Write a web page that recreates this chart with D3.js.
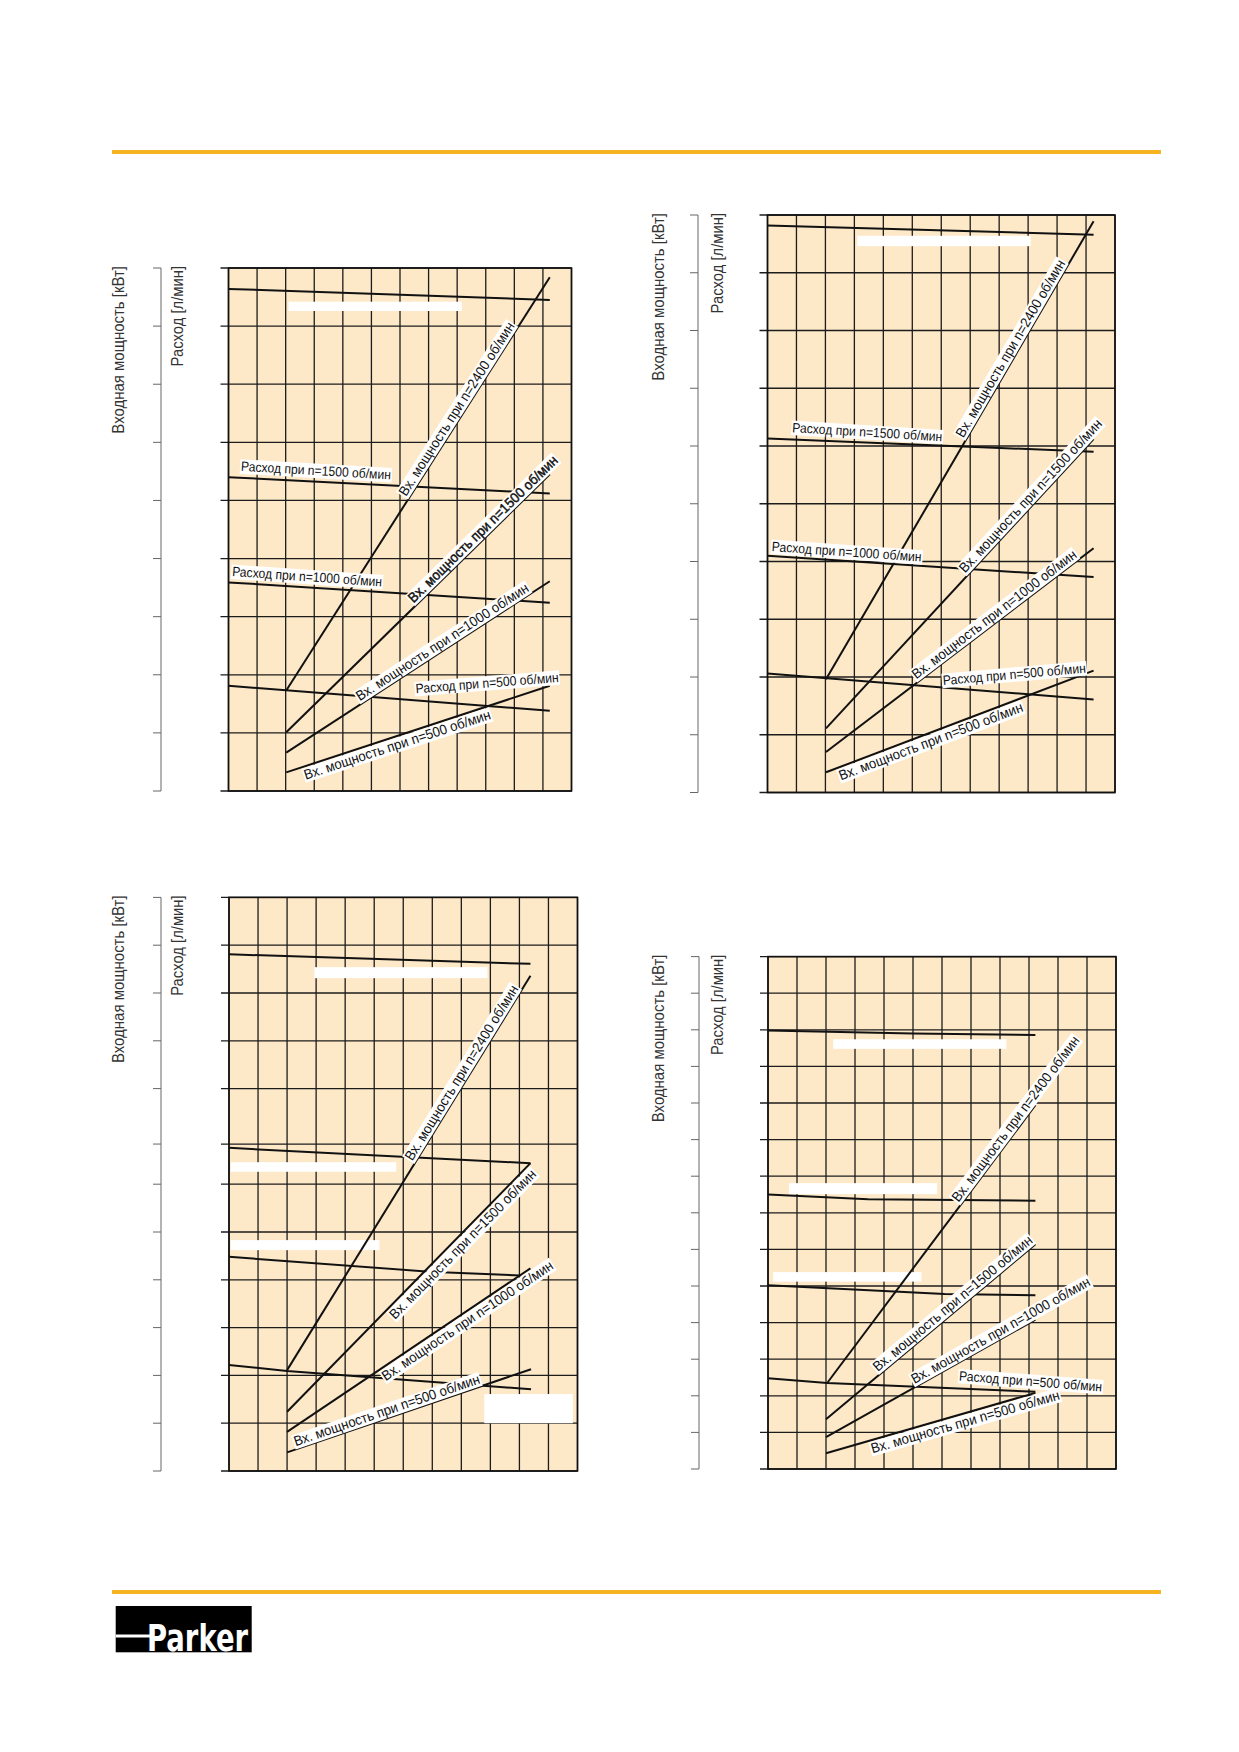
<!DOCTYPE html>
<meta charset="utf-8">
<title>Parker – Входная мощность и расход</title>
<style>
  body { margin: 0; background: #fff; }
  text.lbl { font-family: "Liberation Sans", Arial, sans-serif; font-size: 13.5px; fill: #111; }
  text.lbl.pw { font-size: 14px; }
  text.ttl { font-family: "Liberation Sans", Arial, sans-serif; font-size: 17px; fill: #333; }
  .grid line { stroke: #1c1c1c; stroke-width: 1.3px; }
  .curve { fill: none; stroke: #111; stroke-width: 2px; }
  .axis line { stroke: #666; stroke-width: 1px; }
</style>
<script src="https://d3js.org/d3.v7.min.js"></script>
<div id="page"></div>
<script>

// column lines (grid units), same for all four charts
var cols = [0, 1, 2, 3, 4, 5, 6, 7, 8, 9, 10, 11, 12];

// row lines for each chart (bottom-left one has a misplaced line in the original)
var tlRows = [0, 1, 2, 3, 4, 5, 6, 7, 8, 9];
var trRows = [0, 1, 2, 3, 4, 5, 6, 7, 8, 9, 10];
var blRows = [0, 1, 2, 3, 4, 5, 6, 6.84, 8, 9, 10, 11, 12];
var brRows = [0, 1, 2, 3, 4, 5, 6, 7, 8, 9, 10, 11, 12, 13, 14];

// speeds, in the order used by the series arrays below
var speeds = ["2400", "1500", "1000", "500"];

// flow (Расход) and input power (Вх. мощность) curves, [x, y] in grid units
var tlFlow = [
  [[0, 8.64], [11.24, 8.45]],
  [[0, 5.40], [11.24, 5.12]],
  [[0, 3.59], [11.24, 3.24]],
  [[0, 1.81], [11.24, 1.38]]
];
var tlPower = [
  [[2.02, 1.73], [11.24, 8.84]],
  [[2.02, 1.01], [11.24, 5.45]],
  [[2.02, 0.66], [11.24, 3.61]],
  [[2.02, 0.32], [11.24, 1.81]]
];

var trFlow = [
  [[0, 9.82], [11.26, 9.66]],
  [[0, 6.13], [11.26, 5.90]],
  [[0, 4.10], [11.26, 3.73]],
  [[0, 2.06], [11.26, 1.61]]
];
var trPower = [
  [[2.02, 1.96], [11.26, 9.89]],
  [[2.02, 1.11], [11.26, 6.12]],
  [[2.02, 0.70], [11.26, 4.23]],
  [[2.02, 0.35], [11.26, 2.11]]
];

var blFlow = [
  [[0, 10.81], [10.38, 10.61]],
  [[0, 6.76], [10.38, 6.44]],
  [[0, 4.48], [6.9, 4.17], [10.05, 4.09]],
  [[0, 2.22], [2.0, 2.09], [10.4, 1.71]]
];
var blPower = [
  [[2.0, 2.11], [10.38, 10.36]],
  [[2.0, 1.24], [10.38, 6.44]],
  [[2.0, 0.82], [10.38, 4.24]],
  [[2.0, 0.39], [10.4, 2.13]]
];

var brFlow = [
  [[0, 11.98], [5, 11.90], [9.22, 11.86]],
  [[0, 7.50], [3.45, 7.37], [9.22, 7.33]],
  [[0, 5.02], [6.09, 4.78], [9.22, 4.75]],
  [[0, 2.48], [2.04, 2.35], [9.22, 2.11]]
];
var brPower = [
  [[2.04, 2.35], [9.22, 9.94]],
  [[2.0, 1.36], [9.22, 6.14]],
  [[2.0, 0.87], [9.22, 4.08]],
  [[2.0, 0.43], [9.22, 2.08]]
];

// blanked-out (white) label patches: [x0, x1, yTop, yBottom] in grid units
var tlBlank = [[2.1, 8.16, 8.42, 8.26]];
var trBlank = [[3.1, 9.09, 9.64, 9.46]];
var blBlank = [[2.94, 8.9, 10.54, 10.31], [0.06, 5.76, 6.46, 6.26], [0.06, 5.18, 4.83, 4.62], [8.79, 11.84, 1.61, 1.0]];
var brBlank = [[2.25, 8.22, 11.74, 11.48], [0.72, 5.83, 7.81, 7.51], [0.18, 5.29, 5.38, 5.12]];

var flowText = function(n) { return "Расход при n=" + n + " об/мин"; };
var powerText = function(n) { return "Вх. мощность при n=" + n + " об/мин"; };

// labels: on = index of power curve (text follows it), off = px above (+) / below (-)
var tlLabels = [
  {t: flowText("1500"), x: 0.43, y: 5.51, a: 3.3},
  {t: flowText("1000"), x: 0.12, y: 3.70, a: 4},
  {t: flowText("500"), x: 6.56, y: 1.68, a: -4.6},
  {t: powerText("2400"), on: 0, x: 6.3, off: 3},
  {t: powerText("1500"), on: 1, x: 6.55, off: 3, bold: true},
  {t: powerText("1000"), on: 2, x: 4.65, off: 3},
  {t: powerText("500"), on: 3, x: 2.56, off: -13}
];
var trLabels = [
  {t: flowText("1500"), x: 0.85, y: 6.24, a: 3.5},
  {t: flowText("1000"), x: 0.14, y: 4.18, a: 4},
  {t: flowText("500"), x: 6.07, y: 1.86, a: -5},
  {t: powerText("2400"), on: 0, x: 6.85, off: 3},
  {t: powerText("1500"), on: 1, x: 6.9, off: 3},
  {t: powerText("1000"), on: 2, x: 5.2, off: 3},
  {t: powerText("500"), on: 3, x: 2.38, off: -13}
];
var blLabels = [
  {t: powerText("2400"), on: 0, x: 6.4, off: 3},
  {t: powerText("1500"), on: 1, x: 5.4, off: -13},
  {t: powerText("1000"), on: 2, x: 5.15, off: -13},
  {t: powerText("500"), on: 3, x: 2.33, off: 3}
];
var brLabels = [
  {t: powerText("2400"), on: 0, x: 6.65, off: 3},
  {t: powerText("1500"), on: 1, x: 3.85, off: 3},
  {t: powerText("1000"), on: 2, x: 5.1, off: 3},
  {t: flowText("500"), x: 6.58, y: 2.42, a: 4.4},
  {t: powerText("500"), on: 3, x: 3.48, off: -13}
];

var titlePower = "Входная мощность [кВт]";
var titleFlow = "Расход [л/мин]";

var svg = d3.select("#page").append("svg")
    .attr("width", 1239)
    .attr("height", 1752);

// squeeze text horizontally a bit, the original uses a narrow face
function condense(sel, k) {
  sel.each(function() {
    var len = this.getComputedTextLength();
    d3.select(this).attr("textLength", len * k).attr("lengthAdjust", "spacingAndGlyphs");
  });
}

function drawChart(c) {
  var x = d3.scaleLinear().domain([0, 12]).range([c.left, c.right]);
  var y = d3.scaleLinear().domain([0, c.rows[c.rows.length - 1]]).range([c.bottom, c.top]);
  var g = svg.append("g");

  g.append("rect")
    .attr("x", c.left).attr("y", c.top)
    .attr("width", c.right - c.left).attr("height", c.bottom - c.top)
    .attr("fill", "#fde8c8");

  var grid = g.append("g").attr("class", "grid");
  grid.selectAll(".v").data(cols).enter().append("line")
    .attr("x1", d => x(d)).attr("x2", d => x(d))
    .attr("y1", c.top).attr("y2", c.bottom);
  grid.selectAll(".h").data(c.rows).enter().append("line")
    .attr("x1", c.left - 8).attr("x2", c.right)
    .attr("y1", d => y(d)).attr("y2", d => y(d));
  g.append("rect")
    .attr("x", c.left).attr("y", c.top)
    .attr("width", c.right - c.left).attr("height", c.bottom - c.top)
    .attr("fill", "none").attr("stroke", "#111").attr("stroke-width", 1.6);

  // left value axis (no numbers in the original)
  var ax = g.append("g").attr("class", "axis");
  ax.append("line").attr("x1", c.axisX).attr("x2", c.axisX)
    .attr("y1", c.top).attr("y2", c.bottom);
  ax.selectAll(".t").data(c.rows).enter().append("line")
    .attr("x1", c.axisX - 8).attr("x2", c.axisX)
    .attr("y1", d => y(d)).attr("y2", d => y(d));

  g.append("text").attr("class", "ttl")
    .attr("transform", "translate(" + c.t1 + "," + (c.top - 2) + ") rotate(-90)")
    .attr("text-anchor", "end").text(titlePower).call(condense, 0.88);
  g.append("text").attr("class", "ttl")
    .attr("transform", "translate(" + c.t2 + "," + (c.top - 2) + ") rotate(-90)")
    .attr("text-anchor", "end").text(titleFlow).call(condense, 0.87);

  g.selectAll(".blank").data(c.blank).enter().append("rect")
    .attr("x", d => x(d[0])).attr("y", d => y(d[2]))
    .attr("width", d => x(d[1]) - x(d[0])).attr("height", d => y(d[3]) - y(d[2]))
    .attr("fill", "#fff");

  var line = d3.line().x(d => x(d[0])).y(d => y(d[1]));
  g.selectAll(".flow").data(c.flow).enter().append("path")
    .attr("class", "curve").attr("d", line);
  g.selectAll(".power").data(c.power).enter().append("path")
    .attr("class", "curve").attr("d", line);

  c.labels.forEach(function(l) {
    var px, py, ang, power = l.on !== undefined;
    if (power) {
      var pts = c.power[l.on], p1 = pts[0], p2 = pts[pts.length - 1];
      var yy = p1[1] + (p2[1] - p1[1]) * (l.x - p1[0]) / (p2[0] - p1[0]);
      var a = Math.atan2(y(p2[1]) - y(p1[1]), x(p2[0]) - x(p1[0]));
      px = x(l.x) + l.off * Math.sin(a);
      py = y(yy) - l.off * Math.cos(a);
      ang = a * 180 / Math.PI;
    } else {
      px = x(l.x); py = y(l.y); ang = l.a;
    }
    var lg = g.append("g").attr("transform", "translate(" + px + "," + py + ") rotate(" + ang + ")");
    var bg = lg.append("rect").attr("fill", "#fff");
    var tx = lg.append("text").attr("class", power ? "lbl pw" : "lbl").text(l.t)
      .call(condense, power ? 0.94 : 0.9);
    if (l.bold) tx.attr("stroke", "#111").attr("stroke-width", 0.45);
    var w = +tx.attr("textLength");
    bg.attr("x", -1).attr("y", -11.5).attr("width", w + 2).attr("height", 14.5);
  });
}

drawChart({left: 228.5, right: 571.5, top: 268, bottom: 791, rows: tlRows,
  axisX: 161, t1: 124, t2: 183, flow: tlFlow, power: tlPower, blank: tlBlank, labels: tlLabels});
drawChart({left: 767.5, right: 1115, top: 215, bottom: 792.5, rows: trRows,
  axisX: 698, t1: 664, t2: 723, flow: trFlow, power: trPower, blank: trBlank, labels: trLabels});
drawChart({left: 229, right: 577.5, top: 897.4, bottom: 1471, rows: blRows,
  axisX: 161, t1: 124, t2: 183, flow: blFlow, power: blPower, blank: blBlank, labels: blLabels});
drawChart({left: 768, right: 1116, top: 956.6, bottom: 1469, rows: brRows,
  axisX: 699, t1: 664, t2: 723, flow: brFlow, power: brPower, blank: brBlank, labels: brLabels});

// page rules
svg.append("rect").attr("x", 112).attr("y", 150).attr("width", 1049).attr("height", 4).attr("fill", "#f6b423");
svg.append("rect").attr("x", 112).attr("y", 1590).attr("width", 1049).attr("height", 4).attr("fill", "#f6b423");

// logo
svg.append("rect").attr("x", 115.7).attr("y", 1606).attr("width", 136).attr("height", 46.3).attr("fill", "#000");
svg.append("rect").attr("x", 115.7).attr("y", 1634.5).attr("width", 36).attr("height", 3).attr("fill", "#fff");
svg.append("text")
  .attr("x", 147).attr("y", 1651)
  .attr("font-family", "DejaVu Sans, Liberation Sans, sans-serif")
  .attr("font-weight", "bold").attr("font-size", 38)
  .attr("fill", "#fff")
  .attr("textLength", 101).attr("lengthAdjust", "spacingAndGlyphs")
  .text("Parker");

</script>
